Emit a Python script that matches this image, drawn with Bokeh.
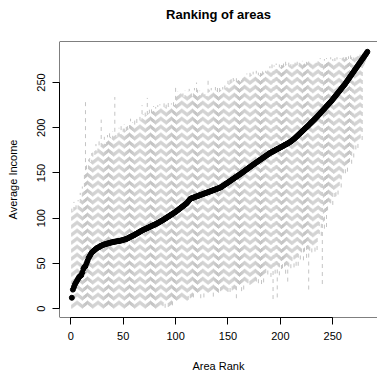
from bokeh.plotting import figure
from bokeh.models import Range1d, FixedTicker, ColumnDataSource, Span, Title
from bokeh.embed import file_html
from bokeh.resources import INLINE

# Sorted average income per area (rank 1..283)
mean_income = [
    12, 21, 24, 27, 29, 31, 33, 35, 36, 37,
    40, 44, 46, 47, 50, 53, 56, 58, 60, 62,
    63, 64, 65, 66, 67, 67.5, 68, 69, 69.5, 70,
    70.5, 71, 71.3, 71.6, 72, 72.3, 72.6,
    73, 73.2, 73.5, 73.8, 74, 74.2, 74.4, 74.6, 74.8, 75, 75.3, 75.6, 76, 76.3, 76.7, 77,
    77.6, 78.2, 78.8, 79.4, 80, 80.5, 81,
    81.7, 82.4, 83, 83.7, 84.4, 85, 85.7, 86.4, 87,
    87.5, 88, 88.6, 89.1, 89.6, 90.2, 90.7, 91.3, 91.8, 92.3, 92.9, 93.4, 94,
    94.7, 95.3, 96, 96.7, 97.3, 98,
    98.7, 99.5, 100.2, 101, 101.7, 102.5, 103.2, 104, 104.7, 105.5, 106.2, 107,
    107.9, 108.8, 109.7, 110.6, 111.5, 112.4, 113.3, 114.2, 115.1, 116, 117, 118.5, 120,
    121.4, 121.9, 122.3, 122.7, 123.2, 123.6, 124, 124.5, 124.9, 125.3,
    125.8, 126.2, 126.6, 127.1, 127.5, 127.9, 128.4, 128.8, 129.2, 129.7,
    130.1, 130.5, 131, 131.4, 131.8, 132.3, 132.7, 133.1, 133.6, 134,
    134.8, 135.6, 136.4, 137.2, 138, 138.7, 139.5, 140.3, 141.1, 141.9,
    142.7, 143.5, 144.3, 145.1, 145.9, 146.6, 147.4, 148.2, 149,
    149.8, 150.7, 151.5, 152.4, 153.2, 154.1, 154.9, 155.8, 156.6, 157.5, 158.3, 159.2, 160,
    160.8, 161.6, 162.4, 163.2, 164, 164.8, 165.6, 166.4, 167.2, 168, 168.8, 169.6, 170.4, 171.2, 172,
    172.6, 173.3, 173.9, 174.5, 175.1, 175.8, 176.4, 177, 177.6, 178.3, 178.9, 179.5, 180.1, 180.8, 181.4, 182,
    182.7, 183.4, 184.1, 184.9, 185.8, 186.7, 187.6, 188.6, 189.7, 190.8,
    191.9, 193, 194.1, 195.2, 196.3, 197.4, 198.5, 199.6, 200.7, 201.8,
    202.9, 204.1, 205.2, 206.4, 207.5, 208.7, 209.8, 211,
    212.2, 213.5, 214.8, 216, 217.3, 218.6, 219.8, 221.1, 222.4, 223.7, 224.9, 226.2, 227.5, 228.7, 230,
    231.5, 232.9, 234.4, 235.8, 237.3, 238.7, 240.2, 241.6, 243.1, 244.5, 246, 247.4, 248.9,
    250.6, 252.2, 253.9, 255.6, 257.2, 258.9, 260.6, 262.2, 263.9, 265.6,
    267.2, 268.9, 270.6, 272.2, 273.9, 275.6, 277.2, 278.9, 280.6, 282.2, 284,
]

# Lower ends of the dashed grey intervals
lower = [
    0, 0.9, 1.8, 2.7, 3.6, 4.5, 3.6, 2.7, 1.8, 0.9,
    0, 0.9, 1.8, 2.7, 3.6, 4.5, 3.6, 2.7, 1.8, 0.9,
    0, 0.9, 1.8, 2.7, 3.6, 4.5, 3.6, 2.7, 1.8, 0.9,
    0, 0.9, 1.8, 2.7, 3.6, 4.5, 3.6, 2.7, 1.8, 0.9,
    0, 0.9, 1.8, 2.7, 3.6, 4.5, 3.6, 2.7, 1.8, 0.9,
    0, 0.9, 1.8, 2.7, 3.6, 4.5, 3.6, 2.7, 1.8, 0.9,
    0, 0.9, 1.8, 2.7, 3.6, 4.5, 3.6, 2.7, 1.8, 0.9,
    0, 0.9, 1.8, 2.7, 3.6, 4.5, 3.6, 2.7, 1.8, 0.9,
    0, 0.9, 1.8, 2.7,
    3.6, 4.5, 3.6, 2.7, 10.55, 0.9, 8.75, 9.65, 1.8, 2.7,
    3.6, 4.5, 3.6, 11.45, 10.55, 9.65, 8.75, 9.65, 10.55, 11.45,
    12.35, 13.25, 12.35, 11.45, 10.55, 9.65, 8.75,
    9.65, 19.3, 11.45, 12.35, 13.25, 12.35, 20.2, 19.3, 18.4, 17.5,
    18.4, 19.3, 11.45, 21.1, 22, 12.35, 20.2, 19.3, 18.4, 17.5,
    18.4, 19.3, 20.2, 21.1, 13.25,
    21.1, 20.2, 19.3, 18.4, 17.5, 27.15, 19.3, 20.2, 21.1, 22,
    21.1, 20.2, 19.3, 18.4, 26.25, 18.4, 28.05, 20.2, 21.1, 22,
    21.1, 11.45, 28.05, 27.15, 26.25, 27.15, 19.3, 28.95, 21.1,
    30.75, 29.85, 28.95, 28.05, 35.9, 26.25, 27.15, 28.05, 28.95, 29.85,
    30.75, 29.85, 37.7, 28.05, 35.9, 35, 27.15, 36.8, 28.95, 38.6,
    39.5, 47.35, 37.7, 45.55, 44.65, 35, 44.65, 10.55, 46.45, 38.6,
    48.25, 12.35, 46.45, 36.8, 53.4,
    43.75, 44.65, 54.3, 46.45, 38.6, 48.25, 29.85, 46.45, 54.3, 44.65,
    52.5, 62.15, 45.55, 55.2, 47.35,
    57, 47.35, 63.95, 54.3, 62.15, 70, 53.4, 63.05, 72.7, 56.1,
    65.75, 21.1, 63.95, 71.8, 62.15, 70, 70.9, 63.05, 72.7, 64.85,
    83.25, 82.35, 98.95, 80.55, 27.15, 96.25, 88.4, 106.8, 90.2, 108.6,
    118.25, 117.35, 116.45, 124.3, 114.65, 131.25, 123.4, 124.3, 133.95, 126.1,
    135.75, 143.6, 133.95,
    150.55, 149.65, 157.5, 149.65, 159.3, 151.45, 161.1, 162, 169.85, 160.2,
    176.8, 167.15, 183.75, 176.05, 185.55, 177.7, 187.35, 188.25, 196.1, 186.45,
    268, 270, 273, 276, 279,
]

# Upper ends of the dashed grey intervals
upper = [
    113, 108, 118, 112, 116, 110, 120, 115,
    128, 124, 135, 132,
    150, 231, 160, 155, 165, 170, 162, 172,
    175, 168, 178, 182, 174, 180, 185, 176, 209, 183,
    185, 190, 182, 188, 192, 186, 194, 190, 188, 196, 192,
    234,
    195, 190, 198, 200, 193, 202, 196, 199, 204, 197, 201, 205, 199, 203,
    210,
    202, 206, 200, 208, 204, 210, 205, 207, 212, 209,
    225, 215, 212, 218, 214, 233, 216, 220, 215, 222, 218, 224, 220, 223, 219, 225, 221, 226, 222,
    224, 220, 227, 223, 226, 221, 228, 224, 222, 227, 223, 229, 225,
    246,
    235, 240, 236, 238, 242, 237, 239, 234, 241, 238, 236, 240, 243, 237, 239, 235, 241,
    244, 240, 250, 242, 238,
    241, 236, 239, 242, 237, 240, 235, 238,
    253,
    242, 239, 244, 240, 243, 238, 245, 241, 244, 239, 246, 242, 240, 245, 243, 247, 244,
    248, 252, 249, 254, 256, 251, 255, 253, 250, 256, 252, 254, 255, 251, 253, 257,
    256, 259, 257, 260, 258, 256, 261, 259, 257, 262, 258, 260, 263, 259, 261, 258, 262, 260, 264, 261,
    259, 263, 262, 265,
    266, 268, 264, 270, 267, 269, 265, 271, 268, 266, 270, 267, 272, 269, 271, 268, 273, 270, 267, 272,
    269, 271, 268,
    272, 270, 274, 271, 273, 269, 275, 272, 270, 274, 271, 273, 270, 274, 272, 276, 272, 274, 271, 273, 270,
    273, 275, 272, 276, 274, 277, 273, 275, 272, 276, 274, 277, 275, 273, 276, 278, 274, 276, 273, 277,
    275, 278, 276, 274, 277, 275,
    277, 279, 276, 280, 278, 276, 279, 277, 280, 278, 276, 279, 281, 278, 280, 282, 279, 281, 283, 282,
    281, 282, 283, 284, 285,
]

x_ticks = [0, 50, 100, 150, 200, 250]
y_ticks = [0, 50, 100, 150, 200, 250]
title_text = "Ranking of areas"

n = min(len(mean_income), len(lower), len(upper))
rank = list(range(1, n + 1))

seg_src = ColumnDataSource(dict(x=rank, lo=lower[:n], hi=upper[:n]))
pt_src = ColumnDataSource(dict(x=list(range(1, len(mean_income) + 1)), y=mean_income))

FONT = "Liberation Sans"
X0, X1 = -10.78, 292.66
Y0, Y1 = -9.85, 295.4

p = figure(
    width=377, height=374,
    output_backend="svg", toolbar_location=None,
    x_range=Range1d(X0, X1), y_range=Range1d(Y0, Y1),
    min_border_left=59, min_border_right=0, min_border_top=41, min_border_bottom=54,
    title=title_text,
)
p.title.align = "center"
p.title.text_font = FONT
p.title.text_font_size = "13px"
p.title.text_font_style = "bold"
p.title.text_color = "black"
p.title.standoff = 2

# blank spacer between the frame and the title, pushes the title upward
p.add_layout(Title(text=" ", text_font_size="10px", standoff=6), "above")

p.xgrid.visible = False
p.ygrid.visible = False
p.outline_line_color = None
p.background_fill_color = "white"
p.border_fill_color = "white"

# plot box (top, left, bottom); the right side lies beyond the picture edge
p.add_layout(Span(location=Y1, dimension="width", line_color="black", line_width=1))
p.add_layout(Span(location=Y0, dimension="width", line_color="black", line_width=1))
p.add_layout(Span(location=X0, dimension="height", line_color="black", line_width=1))

p.segment(x0="x", y0="lo", x1="x", y1="hi", source=seg_src,
          line_color="#C4C4C4", line_width=1, line_dash="4 4")
p.scatter(x="x", y="y", source=pt_src, size=5, fill_color="black",
          line_color="black", line_width=1)

for ax, ticks, label in ((p.xaxis[0], x_ticks, "Area Rank"), (p.yaxis[0], y_ticks, "Average Income")):
    ax.ticker = FixedTicker(ticks=ticks)
    ax.bounds = (ticks[0], ticks[-1])
    ax.axis_label = label
    ax.axis_label_text_font = FONT
    ax.axis_label_text_font_size = "11px"
    ax.axis_label_text_font_style = "normal"
    ax.axis_label_text_color = "black"
    ax.major_label_text_font = FONT
    ax.major_label_text_font_size = "11px"
    ax.major_label_text_color = "black"
    ax.axis_line_color = "black"
    ax.major_tick_line_color = "black"
    ax.major_tick_out = 7
    ax.major_tick_in = 0
    ax.minor_tick_line_color = None
    ax.major_label_standoff = 7

p.xaxis[0].axis_label_standoff = 17
p.yaxis[0].axis_label_standoff = 16
p.yaxis[0].major_label_orientation = "vertical"

open("out.html", "w").write(file_html(p, INLINE))
